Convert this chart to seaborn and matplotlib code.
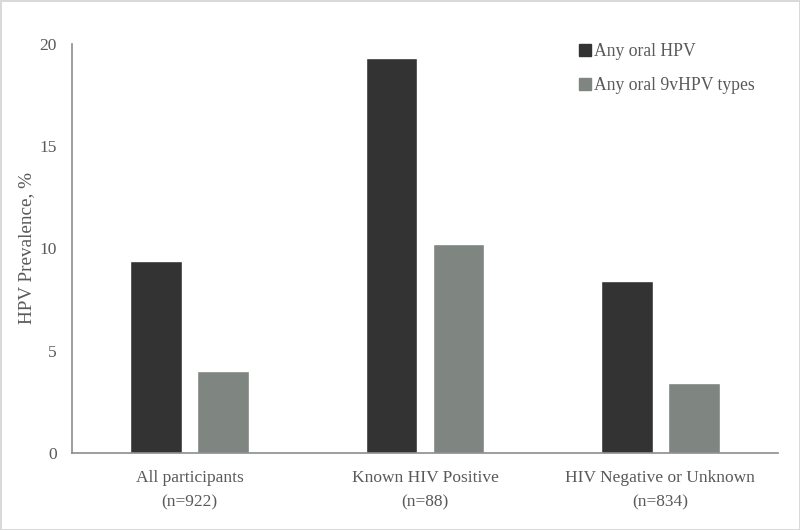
import pandas as pd
import matplotlib.pyplot as plt
import seaborn as sns
from matplotlib.lines import Line2D

# data
groups = ["All participants\n(n=922)", "Known HIV Positive\n(n=88)", "HIV Negative or Unknown\n(n=834)"]
any_hpv = [9.4, 19.3, 8.4]
any_9v = [4.0, 10.2, 3.4]
series = ["Any oral HPV", "Any oral 9vHPV types"]
yticks = [0, 5, 10, 15, 20]

df = pd.DataFrame({
    "group": groups * 2,
    "series": [series[0]] * 3 + [series[1]] * 3,
    "value": any_hpv + any_9v,
})

sns.set_theme(style="white")
plt.rcParams['font.family'] = ['Liberation Serif', 'DejaVu Serif']

colors = ["#333333", "#7f8580"]
text_col = "#595959"

fig = plt.figure(figsize=(8, 5.3), dpi=100)
fig.patch.set_edgecolor("#d9d9d9")
fig.patch.set_linewidth(2)
ax = fig.add_axes([0.09, 0.1453, 0.8825, 0.7717])

sns.barplot(data=df, x="group", y="value", hue="series", palette=colors,
            width=0.57, gap=0.23, saturation=1, legend=False, ax=ax)

ax.set_ylim(0, 20)
ax.set_xlim(-0.5, 2.5)
ax.set_yticks(yticks)
ax.set_ylabel("HPV Prevalence, %", fontsize=13.8, color=text_col, labelpad=3)
ax.set_xlabel("")
ax.tick_params(axis="both", length=0, labelsize=12.5, colors=text_col)
ax.tick_params(axis="x", pad=12)
ax.tick_params(axis="y", pad=11)
for lbl in ax.get_xticklabels():
    lbl.set_linespacing(1.75)

for s in ["top", "right"]:
    ax.spines[s].set_visible(False)
for s in ["left", "bottom"]:
    ax.spines[s].set_color("#8c8c8c")
    ax.spines[s].set_linewidth(1.2)

handles = [Line2D([], [], marker="s", linestyle="", markersize=8, color=c) for c in colors]
leg = ax.legend(handles, series, loc="upper right", bbox_to_anchor=(0.99, 1.042), frameon=False,
                fontsize=12.7, labelspacing=1.0, handletextpad=0.1, handlelength=0.8)
for t in leg.get_texts():
    t.set_color(text_col)

plt.savefig("out.png", dpi=100)
